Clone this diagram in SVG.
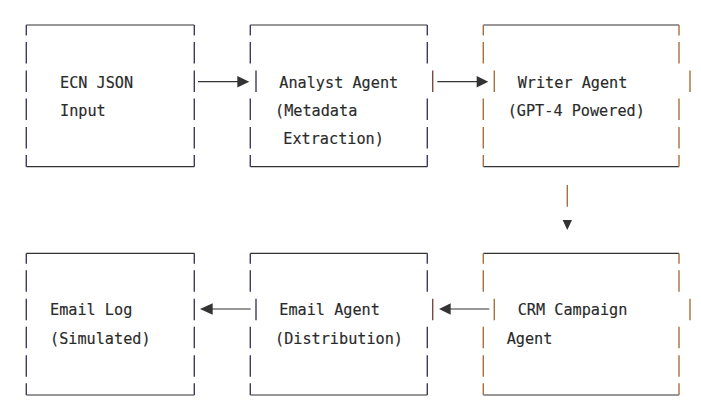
<svg xmlns="http://www.w3.org/2000/svg" width="701" height="410" viewBox="0 0 701 410">
<style>
  .edge{stroke:#333333;stroke-width:1.2;fill:none}
  .bar{stroke:#3f3a5e;stroke-width:1.4;fill:none}
  .bar-w{stroke:#a8703a;stroke-width:1.4;fill:none}
  .bar-r{stroke:#80483c;stroke-width:1.4;fill:none}
  .lbl{font-family:"DejaVu Sans Mono","Liberation Mono",monospace;font-size:15.2px;fill:#2a2a2a;stroke:#2a2a2a;stroke-width:0.15}
  .conn{stroke:#333333;stroke-width:1.2;fill:none}
  .head{fill:#333333}
</style>
<rect width="701" height="410" fill="#ffffff"/>

<g id="node-ecn-input">
  <path class="edge" d="M26.3,25H194.3M26.3,166.7H194.3"/>
  <path class="bar" d="M26.3,25V35.5M26.3,42V63.5M26.3,70.5V92M26.3,98.5V120M26.3,127V148.5M26.3,155V166.7"/>
  <path class="bar" d="M194.3,25V35.5M194.3,42V63.5M194.3,70.5V92M194.3,98.5V120M194.3,127V148.5M194.3,155V166.7"/>
  <text class="lbl" x="60" y="87.8">ECN JSON</text>
  <text class="lbl" x="60" y="115.8">Input</text>
</g>

<g id="node-analyst-agent">
  <path class="edge" d="M250.3,25H427.3M250.3,166.7H427.3"/>
  <path class="bar" d="M250.3,25V35.5M250.3,42V63.5M256,70.5V92M250.3,98.5V120M250.3,127V148.5M250.3,155V166.7"/>
  <path class="bar" d="M427.3,25V35.5M427.3,42V63.5M427.3,98.5V120M427.3,127V148.5M427.3,155V166.7"/>
  <path class="bar-r" d="M432.7,70.5V92"/>
  <text class="lbl" x="279.3" y="87.8">Analyst Agent</text>
  <text class="lbl" x="275" y="115.8">(Metadata</text>
  <text class="lbl" x="283.3" y="144">Extraction)</text>
</g>

<g id="node-writer-agent">
  <path class="edge" d="M483.3,25H679M483.3,166.7H679"/>
  <path class="bar-w" d="M483.3,25V35.5M483.3,42V63.5M494.3,70.5V92M483.3,98.5V120M483.3,127V148.5M483.3,155V166.7"/>
  <path class="bar-w" d="M679,25V35.5M679,42V63.5M690,70.5V92M679,98.5V120M679,127V148.5M679,155V166.7"/>
  <text class="lbl" x="517.7" y="87.8">Writer Agent</text>
  <text class="lbl" x="507.7" y="115.8">(GPT-4 Powered)</text>
</g>

<g id="node-email-log">
  <path class="edge" d="M26.3,253.3H194.3M26.3,395H194.3"/>
  <path class="bar" d="M26.3,253.3V263.8M26.3,270.3V291.8M26.3,298.8V320.3M26.3,326.8V348.3M26.3,355.3V376.8M26.3,383.3V395"/>
  <path class="bar" d="M194.3,253.3V263.8M194.3,270.3V291.8M194.3,298.8V320.3M194.3,326.8V348.3M194.3,355.3V376.8M194.3,383.3V395"/>
  <text class="lbl" x="50" y="315.2">Email Log</text>
  <text class="lbl" x="50" y="343.5">(Simulated)</text>
</g>

<g id="node-email-agent">
  <path class="edge" d="M250.3,253.3H427.3M250.3,395H427.3"/>
  <path class="bar" d="M250.3,253.3V263.8M250.3,270.3V291.8M256,298.8V320.3M250.3,326.8V348.3M250.3,355.3V376.8M250.3,383.3V395"/>
  <path class="bar" d="M427.3,253.3V263.8M427.3,270.3V291.8M427.3,326.8V348.3M427.3,355.3V376.8M427.3,383.3V395"/>
  <path class="bar-r" d="M432.7,298.8V320.3"/>
  <text class="lbl" x="279.3" y="315.2">Email Agent</text>
  <text class="lbl" x="275" y="343.5">(Distribution)</text>
</g>

<g id="node-crm-campaign-agent">
  <path class="edge" d="M483.3,253.3H679M483.3,395H679"/>
  <path class="bar-w" d="M483.3,253.3V263.8M483.3,270.3V291.8M494.3,298.8V320.3M483.3,326.8V348.3M483.3,355.3V376.8M483.3,383.3V395"/>
  <path class="bar-w" d="M679,253.3V263.8M679,270.3V291.8M690,298.8V320.3M679,326.8V348.3M679,355.3V376.8M679,383.3V395"/>
  <text class="lbl" x="517.7" y="315.2">CRM Campaign</text>
  <text class="lbl" x="506.7" y="343.5">Agent</text>
</g>

<g id="connectors">
  <path class="conn" d="M198,81.7H238"/>
  <polygon class="head" points="237.3,76 249.3,81.7 237.3,87.4"/>
  <path class="conn" d="M437.3,81.7H477.5"/>
  <polygon class="head" points="476.7,76 488.3,81.7 476.7,87.4"/>
  <path class="bar-w" d="M567.3,185V206.7"/>
  <polygon class="head" points="562.6,220 572,220 567.3,230"/>
  <path class="conn" d="M489.3,309H450"/>
  <polygon class="head" points="450.7,303.3 439,309 450.7,314.7"/>
  <path class="conn" d="M250.7,309H212"/>
  <polygon class="head" points="212.7,303.3 200,309 212.7,314.7"/>
</g>
</svg>
